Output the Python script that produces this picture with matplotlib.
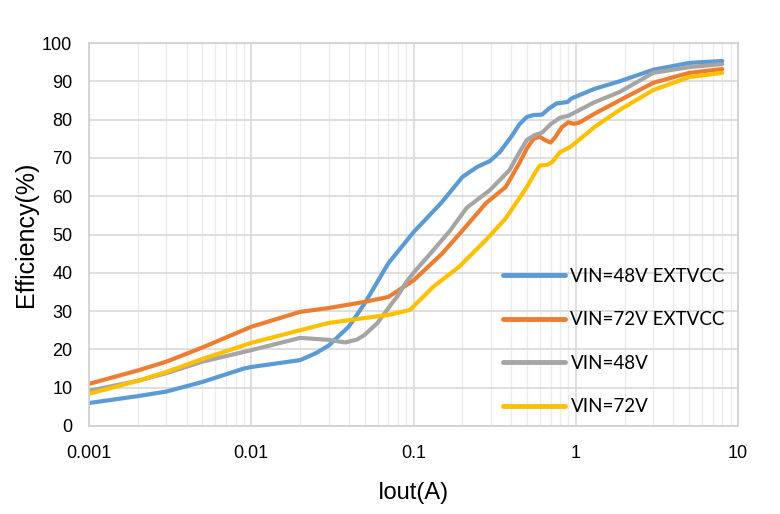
import matplotlib
matplotlib.use("Agg")
import matplotlib.pyplot as plt
from matplotlib.ticker import FixedLocator, FixedFormatter, LogLocator, NullFormatter

# Data (Iout in A, efficiency in %)
blue_x = [0.001, 0.002, 0.003, 0.005, 0.009, 0.01, 0.02, 0.025, 0.03, 0.04, 0.05, 0.07, 0.1, 0.15, 0.2,
          0.246, 0.296, 0.34, 0.4, 0.45, 0.5, 0.55, 0.62, 0.68, 0.76, 0.89, 0.94, 1.0, 1.3, 1.86, 3.0, 5.0, 8.0]
blue_y = [6.0, 7.8, 9.0, 11.5, 15.0, 15.4, 17.2, 19.0, 21.0, 26.0, 32.0, 42.5, 50.6, 58.5, 65.0,
          67.6, 69.2, 71.5, 75.5, 78.8, 80.7, 81.2, 81.3, 82.8, 84.2, 84.6, 85.5, 86.0, 88.0, 90.0, 93.0, 94.8, 95.3]

orange_x = [0.001, 0.002, 0.003, 0.005, 0.01, 0.02, 0.03, 0.05, 0.07, 0.08, 0.1, 0.15, 0.2, 0.28, 0.37,
            0.45, 0.5, 0.55, 0.6, 0.65, 0.7, 0.75, 0.82, 0.9, 0.97, 1.05, 1.3, 1.86, 3.0, 5.0, 8.0]
orange_y = [11.0, 14.5, 16.8, 20.5, 25.9, 29.8, 30.8, 32.4, 33.7, 35.3, 38.0, 45.0, 51.0, 58.2, 62.4,
            68.7, 72.5, 75.0, 75.5, 74.6, 74.0, 75.5, 78.0, 79.3, 78.9, 79.2, 81.5, 85.0, 89.6, 92.2, 93.2]

gray_x = [0.001, 0.002, 0.003, 0.005, 0.01, 0.02, 0.03, 0.038, 0.045, 0.05, 0.06, 0.07, 0.08, 0.09, 0.1,
          0.13, 0.168, 0.213, 0.296, 0.39, 0.45, 0.5, 0.56, 0.62, 0.7, 0.8, 0.9, 1.0, 1.3, 1.86, 3.0, 5.0, 8.0]
gray_y = [9.2, 11.8, 13.8, 16.8, 19.8, 23.0, 22.5, 21.8, 22.6, 23.8, 26.9, 30.8, 34.0, 37.5, 40.0,
          45.5, 51.0, 57.0, 61.6, 66.8, 71.5, 74.7, 76.0, 76.6, 78.8, 80.5, 81.0, 82.0, 84.5, 87.2, 92.2, 93.7, 94.5]

yellow_x = [0.001, 0.002, 0.003, 0.005, 0.01, 0.02, 0.03, 0.05, 0.07, 0.095, 0.132, 0.19, 0.28, 0.37,
            0.5, 0.55, 0.6, 0.67, 0.72, 0.8, 0.92, 1.0, 1.3, 1.86, 3.0, 5.0, 8.0]
yellow_y = [8.4, 11.8, 14.1, 17.5, 21.7, 25.0, 26.9, 28.2, 29.0, 30.3, 36.3, 41.5, 48.6, 54.2,
            62.4, 65.5, 68.0, 68.2, 69.0, 71.5, 72.8, 74.0, 78.0, 82.5, 87.7, 91.1, 92.2]

series_labels = ["VIN=48V EXTVCC", "VIN=72V EXTVCC", "VIN=48V", "VIN=72V"]
series_colors = ["#5B9BD5", "#ED7D31", "#A5A5A5", "#FFC000"]

x_ticks = [0.001, 0.01, 0.1, 1, 10]
x_tick_labels = ["0.001", "0.01", "0.1", "1", "10"]
y_ticks = list(range(0, 101, 10))

plt.rcParams['font.family'] = ['Liberation Sans', 'DejaVu Sans']

fig = plt.figure(figsize=(7.8, 5.14), dpi=100)
ax = fig.add_axes([89/780, 1 - 426/514, (738-89)/780, (426-43)/514])

data = [(blue_x, blue_y), (orange_x, orange_y), (gray_x, gray_y), (yellow_x, yellow_y)]
for (xs, ys), lab, col in zip(data, series_labels, series_colors):
    ax.plot(xs, ys, color=col, lw=3, label=lab, solid_capstyle='round', solid_joinstyle='round')

ax.set_xscale('log')
ax.set_xlim(0.001, 10)
ax.set_ylim(0, 100)
ax.xaxis.set_major_locator(FixedLocator(x_ticks))
ax.xaxis.set_major_formatter(FixedFormatter(x_tick_labels))
ax.xaxis.set_minor_locator(LogLocator(base=10, subs=range(2, 10)))
ax.xaxis.set_minor_formatter(NullFormatter())
ax.set_yticks(y_ticks)

ax.grid(True, which='major', color='#d9d9d9', lw=1.2)
ax.grid(True, which='minor', axis='x', color='#ececec', lw=1.0)
ax.set_axisbelow(True)
for s in ax.spines.values():
    s.set_color('#d0d0d0')
    s.set_linewidth(1.2)
ax.tick_params(which='both', length=0)
ax.tick_params(axis='x', pad=14, labelsize=13)
ax.tick_params(axis='y', pad=12, labelsize=13)

ax.set_xlabel("Iout(A)", fontsize=17, labelpad=14)
ax.set_ylabel("Efficiency(%)", fontsize=18, labelpad=3)

leg = ax.legend(loc='upper left', bbox_to_anchor=(503/780, 1 - 268/514), bbox_transform=fig.transFigure,
                frameon=False, handlelength=3.3, handletextpad=0.3, labelspacing=1.41,
                borderpad=0, borderaxespad=0, prop={'family': ['Lato', 'DejaVu Sans'], 'size': 13.5})
for h in leg.get_lines():
    h.set_linewidth(3.5)

fig.savefig("out.png", dpi=100)
